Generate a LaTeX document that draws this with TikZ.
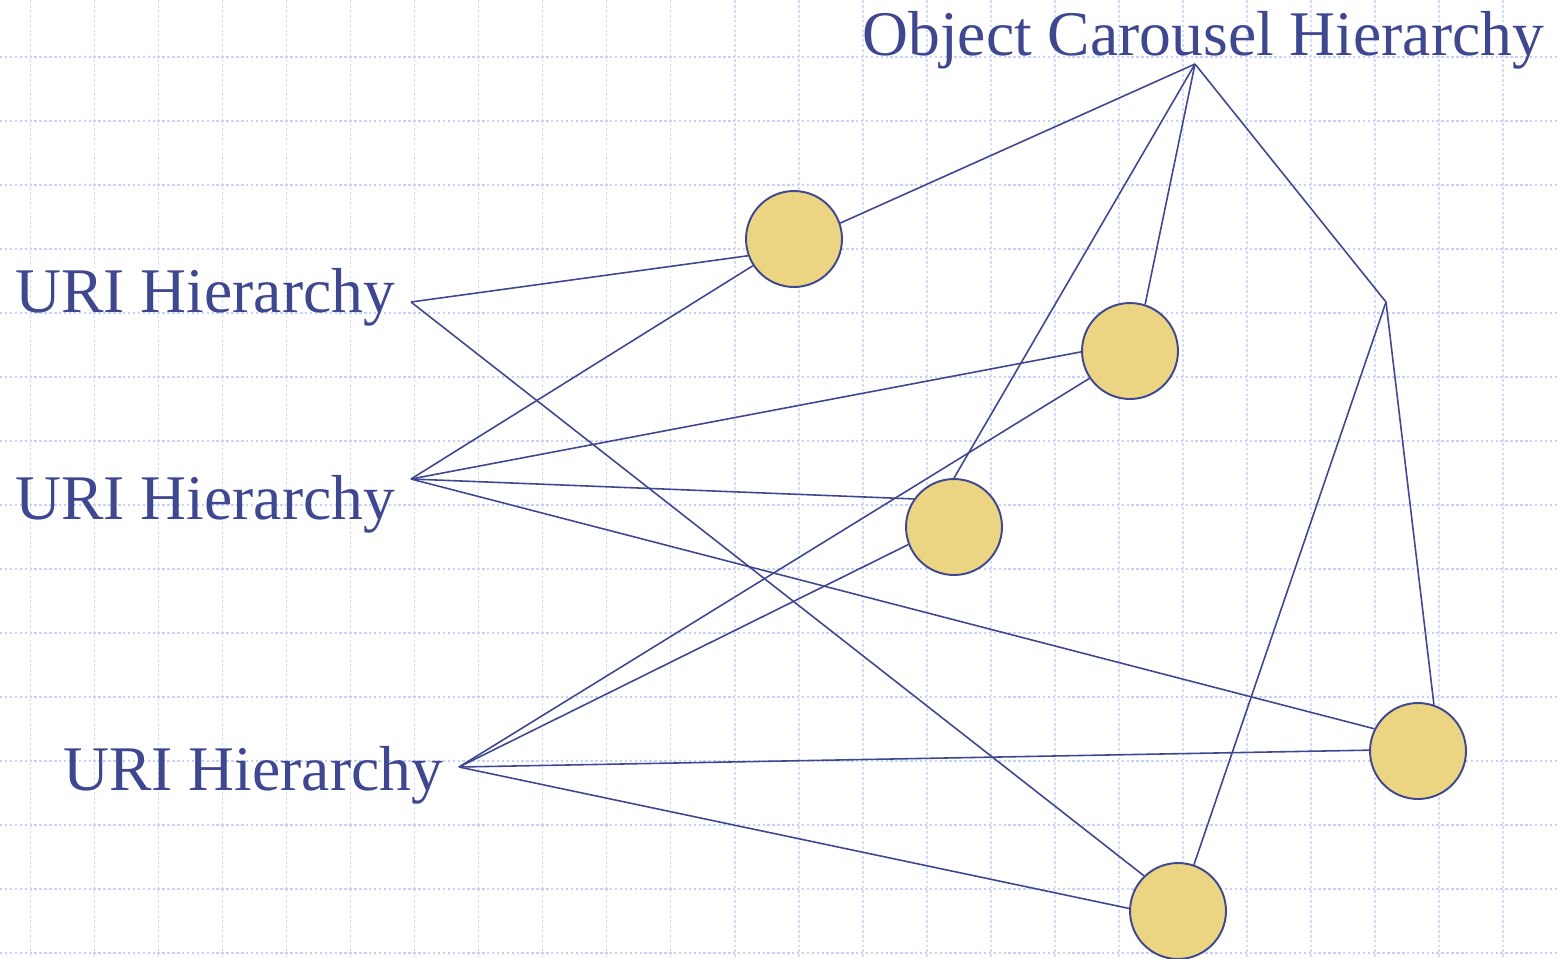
\documentclass[tikz,border=0pt]{standalone}
\usepackage{fontspec}
\setmainfont{Liberation Serif}
\usetikzlibrary{positioning}
\definecolor{Navy}{HTML}{3E4790}
\definecolor{Sand}{HTML}{EBD583}
\definecolor{GridBlue}{HTML}{C4D2FA}
\tikzset{
  gridline/.style={GridBlue,line width=1.1pt,dash pattern=on 1.4pt off 1.4pt},
  gridcol/.style={GridBlue!75,line width=.9pt,dash pattern=on 1.6pt off 1.2pt},
  ball/.style={circle,draw=Navy,fill=Sand,line width=1.1pt,inner sep=0pt,minimum size=1.92cm},
  link/.style={Navy,line width=.9pt},
  lbl/.style={text=Navy,inner sep=0pt,anchor=base west,font=\fontsize{36.2}{40}\selectfont}
}
\begin{document}
\begin{tikzpicture}[x=.02cm,y=-.02cm]
\useasboundingbox (0,0) rectangle (1558,958);
\fill[white] (0,0) rectangle (1558,958);
% background grid
\foreach \gx in {0,...,23} \draw[gridcol] (30.7+64*\gx,0) -- (30.7+64*\gx,958);
\foreach \gy in {0,...,14} \draw[gridline] (0,57.3+64*\gy) -- (1558,57.3+64*\gy);
% labels and joints
\node[lbl] (uriA) at (15,312) {URI Hierarchy};
\node[lbl] (uriB) at (15,519) {URI Hierarchy};
\node[lbl] (uriC) at (63,790) {URI Hierarchy};
\node[lbl] (carousel) at (862,55) {Object Carousel Hierarchy};
\coordinate (hubA) at (411,302);
\coordinate (hubB) at (411,479);
\coordinate (hubC) at (459,767);
\coordinate (hubOC) at (1195,64);
\coordinate (hubX) at (1386,302);
% objects
\node[ball] (objA) at (794,239) {};
\node[ball] (objB) at (1130,351) {};
\node[ball] (objC) at (954,527) {};
\node[ball] (objD) at (1418,751) {};
\node[ball] (objE) at (1178,911) {};
% links
\draw[link] (hubA) -- (objA.200);
\draw[link] (hubA) -- (objE.134);
\draw[link] (hubB) -- (objA.213);
\draw[link] (hubB) -- (objB.181);
\draw[link] (hubB) -- (objC.145);
\draw[link] (hubB) -- (objD.153);
\draw[link] (hubC) -- (objB.214);
\draw[link] (hubC) -- (objC.201);
\draw[link] (hubC) -- (objD.179);
\draw[link] (hubC) -- (objE.177);
\draw[link] (hubOC) -- (objA.19);
\draw[link] (hubOC) -- (objB.72);
\draw[link] (hubOC) -- (objC.north);
\draw[link] (hubOC) -- (hubX);
\draw[link] (hubX) -- (objD.71);
\draw[link] (hubX) -- (objE.71);
\end{tikzpicture}
\end{document}
